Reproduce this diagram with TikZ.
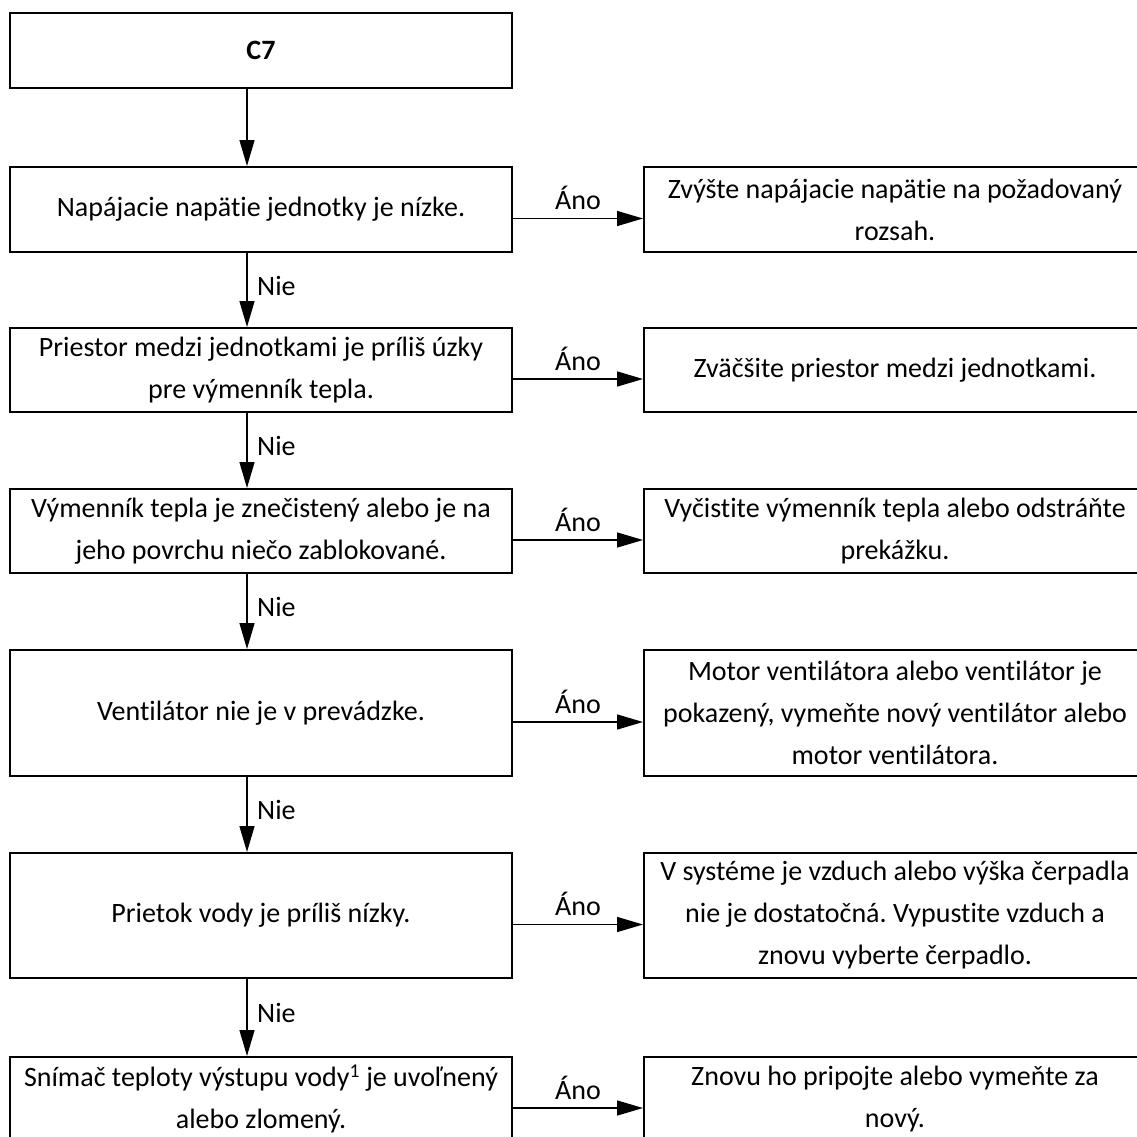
\documentclass[tikz,border=0pt]{standalone}
\usepackage{fontspec}
\setmainfont{Carlito}[Ligatures=NoCommon]
\usetikzlibrary{arrows.meta,calc}
\frenchspacing

\tikzset{
  krok/.style={draw, line width=2pt, minimum width=502pt, inner sep=0pt,
    align=center, font=\fontsize{28}{42}\selectfont},
  sipka/.style={line width=1.4pt, -{Triangle[length=26pt,width=15pt]}},
  popis/.style={inner sep=0pt, font=\fontsize{28}{32}\selectfont}
}

\begin{document}
\begin{tikzpicture}[x=1pt, y=-1pt]
        \useasboundingbox (0,0) rectangle (1137,1137);

        % 左側の箱（判定）
        \node[krok, minimum height=75pt] (c7) at (261,50.5) {\textbf{C7}};
        \node[krok, minimum height=85pt] (b1) at (261,209.5) {Napájacie napätie jednotky je nízke.};
        \node[krok, minimum height=84pt] (b2) at (261,370) {Priestor medzi jednotkami je príliš úzky\\pre výmenník tepla.};
        \node[krok, minimum height=84pt] (b3) at (261,531) {Výmenník tepla je znečistený alebo je na\\jeho povrchu niečo zablokované.};
        \node[krok, minimum height=126pt] (b4) at (261,713) {Ventilátor nie je v prevádzke.};
        \node[krok, minimum height=125pt] (b5) at (261,915.5) {Prietok vody je príliš nízky.};
        \node[krok, minimum height=84pt] (b6) at (261,1099) {Snímač teploty výstupu vody\textsuperscript{1} je uvoľnený\\alebo zlomený.};

        % 右側の箱（対処）
        \node[krok, minimum height=85pt] (r1) at (895,209.5) {Zvýšte napájacie napätie na požadovaný\\rozsah.};
        \node[krok, minimum height=84pt] (r2) at (895,370) {Zväčšite priestor medzi jednotkami.};
        \node[krok, minimum height=84pt] (r3) at (895,531) {Vyčistite výmenník tepla alebo odstráňte\\prekážku.};
        \node[krok, minimum height=126pt] (r4) at (895,713) {Motor ventilátora alebo ventilátor je\\pokazený, vymeňte nový ventilátor alebo\\motor ventilátora.};
        \node[krok, minimum height=125pt] (r5) at (895,915.5) {V systéme je vzduch alebo výška čerpadla\\nie je dostatočná. Vypustite vzduch a\\znovu vyberte čerpadlo.};
        \node[krok, minimum height=84pt] (r6) at (895,1099) {Znovu ho pripojte alebo vymeňte za\\nový.};

        % 縦の矢印
        \foreach \a/\b in {c7/b1, b1/b2, b2/b3, b3/b4, b4/b5, b5/b6} {
            \draw[sipka] ([xshift=-14pt]\a.south) -- ([xshift=-14pt]\b.north);
        }

        % ラベル Nie
        \foreach \a/\b [count=\j] in {b1/b2, b2/b3, b3/b4, b4/b5, b5/b6} {
            \node[popis, anchor=base west] (nie\j) at ($(\a.south)!0.5!(\b.north)+(-4,5)$) {Nie};
        }

        % 横の矢印とラベル Áno
        \foreach \i in {1,...,6} {
            \draw[sipka] ([yshift=-9pt]b\i.east) -- ([yshift=-9pt]r\i.west)
                node[popis, midway, anchor=base, yshift=9pt] (ano\i) {Áno};
        }
    \end{tikzpicture}
\end{document}
